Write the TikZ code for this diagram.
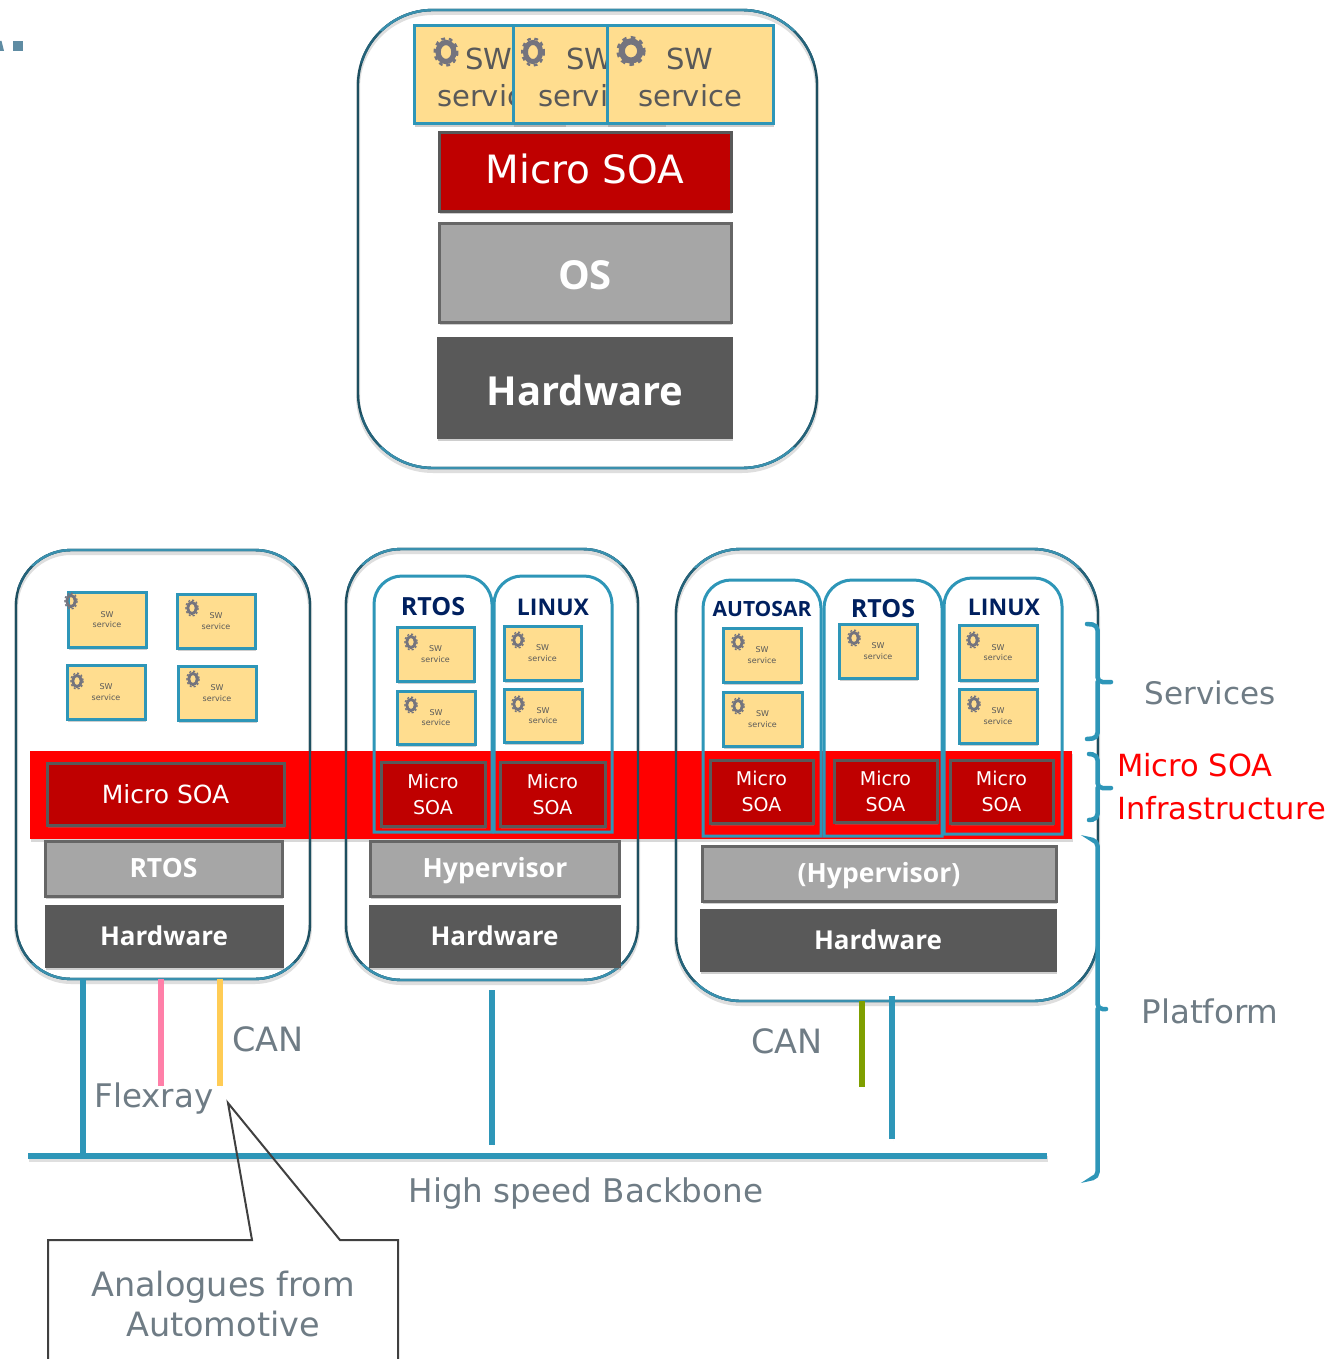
\documentclass[tikz,border=0pt]{standalone}
\usepackage{fontspec}
\setmainfont{DejaVu Sans}
\newfontfamily\titlefont{Open Sans}
\usetikzlibrary{shadows,calc}
\definecolor{teal1}{HTML}{2E96B8}
\definecolor{outerc}{HTML}{1D4F60}
\definecolor{outerm}{HTML}{25637A}
\definecolor{outert}{HTML}{3A90AE}
\definecolor{boxy}{HTML}{FFDD8F}
\definecolor{dred}{HTML}{BF0000}
\definecolor{midg}{HTML}{A6A6A6}
\definecolor{darkg}{HTML}{595959}
\definecolor{edgeg}{HTML}{666666}
\definecolor{labelg}{HTML}{6F7C85}
\definecolor{navyt}{HTML}{00205F}
\definecolor{gearc}{HTML}{74747E}
\definecolor{fragc}{HTML}{5F8CA3}
\definecolor{pinkb}{HTML}{FF7FA8}
\definecolor{yellb}{HTML}{FFCC55}
\definecolor{greenb}{HTML}{7F9F00}
\newcommand{\fsz}[2]{\fontsize{#1}{#2}\selectfont}
\tikzset{
  x=1pt,y=-1pt,
  shad/.style={drop shadow={opacity=.38,shadow xshift=1.2pt,shadow yshift=-3pt}},
  base/.style={inner sep=0pt,outer sep=0pt,align=center},
  swbox/.style={base,draw=teal1,fill=boxy,line width=3pt,shad,text=darkg,font=\fsz{8}{10.5}},
  swtop/.style={swbox,line width=3pt},
  soa/.style={base,draw=darkg,fill=dred,line width=3pt,shad,text=white},
  osb/.style={base,draw=edgeg,fill=midg,line width=3pt,shad,text=white,font=\titlefont\bfseries\fsz{26.5}{30}},
  hwb/.style={base,draw=darkg,fill=darkg,line width=1pt,shad,text=white,font=\titlefont\bfseries\fsz{26}{30}},
  hwt/.style={base,text=white,font=\titlefont\bfseries\fsz{26.5}{30}},
  outerbox/.style={base,draw=outerc,line width=2.4pt},
  innerline/.style={draw=teal1,line width=3pt},
  title/.style={base,text=navyt,font=\titlefont\bfseries\fsz{25}{28}},
  lab/.style={base,text=labelg},
  redlab/.style={base,text=red,anchor=west,font=\fsz{30.5}{34}},
  bar/.style={line width=5.5pt,drop shadow={opacity=.25,shadow xshift=1pt,shadow yshift=-2pt}},
  brace/.style={teal1,line width=4.5pt,line cap=round,rounded corners=5pt},
  geard/.style={gearc}
}
% name, style, x1,y1,x2,y2, text
\newcommand{\bx}[7]{%
  \pgfmathsetmacro{\bw}{#5-#3}\pgfmathsetmacro{\bh}{#6-#4}%
  \pgfmathsetmacro{\bcx}{(#3+#5)/2}\pgfmathsetmacro{\bcy}{(#4+#6)/2}%
  \node[#2,minimum width=\bw pt,minimum height=\bh pt] (#1) at (\bcx,\bcy) {#7};}
% x, y, rx, ry
\newcommand{\gearat}[4]{%
  \pgfmathsetmacro{\gax}{#3*.66}\pgfmathsetmacro{\gay}{#4*.66}%
  \pgfmathsetmacro{\gbx}{#3*.94}\pgfmathsetmacro{\gby}{#4*.94}%
  \pgfmathsetmacro{\gw}{#3*.44}\pgfmathsetmacro{\gt}{#3*.2}%
  \pgfmathsetmacro{\gd}{#3*.32}%
  \draw[geard,line width=\gw pt] (#1,#2) ellipse [x radius=\gax,y radius=\gay];
  \draw[geard,line width=\gt pt,dash pattern=on \gd pt off \gd pt] (#1,#2) ellipse [x radius=\gbx,y radius=\gby];}
\newcommand{\smallsw}[7]{\bx{#1}{swbox}{#2}{#3}{#4}{#5}{SW\\service}\gearat{#6}{#7}{6.5}{8.5}}
\newcommand{\soatwo}[5]{\bx{#1}{soa,font=\fsz{19}{26}}{#2}{#3}{#4}{#5}{Micro\\SOA}}
% soft shadow of an outer box, drawn under the red band
\newcommand{\softouter}[5]{\draw[black!13,line width=4pt,rounded corners=#5pt] (#1,#2+3) rectangle (#3,#4+3);}
% outer box: dark sides, lighter teal top and bottom
\newcommand{\outerb}[6]{%
  \bx{#1}{outerbox,rounded corners=#6pt}{#2}{#3}{#4}{#5}{}
  \begin{scope}
    \clip (#2-5,#3-5) rectangle (#4+5,#3+.7*#6);
    \draw[outerm,line width=2.4pt,rounded corners=#6pt] (#2,#3) rectangle (#4,#5);
  \end{scope}
  \begin{scope}
    \clip (#2-5,#5+5) rectangle (#4+5,#5-.7*#6);
    \draw[outerm,line width=2.4pt,rounded corners=#6pt] (#2,#3) rectangle (#4,#5);
  \end{scope}
  \begin{scope}
    \clip (#2-5,#3-5) rectangle (#4+5,#3+.28*#6);
    \draw[outert,line width=2.4pt,rounded corners=#6pt] (#2,#3) rectangle (#4,#5);
  \end{scope}
  \begin{scope}
    \clip (#2-5,#5+5) rectangle (#4+5,#5-.28*#6);
    \draw[outert,line width=2.4pt,rounded corners=#6pt] (#2,#3) rectangle (#4,#5);
  \end{scope}}
% inner column: round top, square bottom
\newcommand{\innerb}[4]{\draw[innerline] (#1,#4) -- (#1,#2+28) .. controls (#1,#2+12.6) and (#1+12.6,#2) .. (#1+28,#2) -- (#3-28,#2) .. controls (#3-12.6,#2) and (#3,#2+12.6) .. (#3,#2+28) -- (#3,#4) -- cycle;}
\begin{document}
\begin{tikzpicture}
\useasboundingbox (0,0) rectangle (1343,1359);
\fill[white] (0,0) rectangle (1343,1359);
% corner fragment
\fill[fragc] (0,41) -- (1.5,41) -- (4,51) -- (0,51) -- cycle;
\bx{fragS}{base,fill=fragc}{13}{41}{23}{51}{}
% soft shadows
\softouter{358}{10}{817}{468}{75}
\softouter{16}{550}{310}{979}{55}
\softouter{346}{549}{638}{980}{55}
\softouter{676}{549}{1098}{1001}{65}
% red band
\bx{band}{base,fill=red,drop shadow={opacity=.3,shadow xshift=1pt,shadow yshift=-3pt}}{30}{751}{1072}{839}{}
% TOP
\outerb{topO}{358}{10}{817}{468}{75}
\bx{t1}{swtop}{414}{26}{565}{124}{}
\node[base,text=darkg,font=\fsz{29}{37}] (t1t) at (489,77) {SW\\service};
\gearat{446}{52}{12}{14.5}
\bx{t2}{swtop}{513}{26}{665}{124}{}
\node[base,text=darkg,font=\fsz{29}{37}] (t2t) at (590,77) {SW\\service};
\gearat{533}{52}{11.5}{14.5}
\bx{t3}{swtop}{607}{26}{773}{124}{}
\node[base,text=darkg,font=\fsz{29}{37}] (t3t) at (690,77) {SW\\service};
\gearat{631}{51}{14}{14.5}
\bx{tsoa}{soa}{439}{133}{731}{211}{}
\node[base,text=white,font=\fsz{39}{42}] (tsoat) at (585,169) {Micro SOA};
\bx{tos}{osb}{439}{223}{731}{322}{}
\node[hwt,font=\titlefont\bfseries\fsz{40}{44}] (tost) at (585,275) {OS};
\bx{thw}{hwb}{437}{337}{732}{438}{}
\node[hwt,font=\titlefont\bfseries\fsz{40}{44}] (thwt) at (585,390) {Hardware};
% LEFT
\outerb{lO}{16}{550}{310}{979}{55}
\smallsw{l1}{68}{592}{146}{647}{71}{601}
\smallsw{l2}{177}{594}{255}{648}{192}{608}
\smallsw{l3}{67}{665}{145}{719}{77}{681}
\smallsw{l4}{178}{666}{256}{720}{193}{679}
\bx{lsoa}{soa,font=\fsz{25}{28}}{47}{763}{284}{825}{Micro SOA}
\bx{los}{osb}{45}{841}{282}{896}{RTOS}
\bx{lhw}{hwb}{45}{905}{283}{967}{Hardware}
% MIDDLE
\outerb{mO}{346}{549}{638}{980}{55}
\innerb{374}{576}{492}{832}
\innerb{494}{576}{612}{832}
\node[title] (mt1) at (433,607) {RTOS};
\node[title,font=\titlefont\bfseries\fsz{23}{26}] (mt2) at (553,607) {LINUX};
\smallsw{m1}{397}{627}{474}{681}{411}{642}
\smallsw{m2}{397}{691}{475}{744}{411}{705}
\smallsw{m3}{504}{626}{581}{680}{518}{640}
\smallsw{m4}{504}{689}{582}{742}{518}{704}
\soatwo{msoa1}{381}{762}{485}{826}
\soatwo{msoa2}{500}{762}{605}{826}
\bx{mos}{osb}{370}{841}{619}{896}{}
\node[hwt] (most) at (495,871) {Hypervisor};
\bx{mhw}{hwb}{369}{905}{620}{967}{Hardware}
% RIGHT
\outerb{rO}{676}{549}{1098}{1001}{65}
\innerb{703}{580}{821}{836}
\innerb{824}{580}{942}{836}
\innerb{944}{578}{1062}{834}
\node[title,font=\titlefont\bfseries\fsz{21}{24}] (rt1) at (762,609) {AUTOSAR};
\node[title] (rt2) at (883,609) {RTOS};
\node[title,font=\titlefont\bfseries\fsz{23}{26}] (rt3) at (1004,607) {LINUX};
\smallsw{r1}{723}{628}{801}{682}{738}{642}
\smallsw{r2}{723}{692}{802}{746}{738}{706}
\smallsw{r3}{839}{624}{917}{678}{854}{638}
\smallsw{r4}{959}{625}{1037}{680}{973}{640}
\smallsw{r5}{959}{689}{1037}{743}{974}{704}
\soatwo{rsoa1}{710}{760}{813}{823}
\soatwo{rsoa2}{834}{760}{937}{822}
\soatwo{rsoa3}{950}{760}{1053}{823}
\bx{ros}{osb}{702}{846}{1056}{901}{}
\node[hwt] (rost) at (879,876) {(Hypervisor)};
\bx{rhw}{hwb}{700}{909}{1056}{971}{Hardware}
% backbone and connectors
\bx{back}{base,fill=teal1,drop shadow={opacity=.25,shadow xshift=1pt,shadow yshift=-3pt}}{28}{1153}{1047}{1159}{}
\coordinate (c1) at (83,1000);
\coordinate (c2) at (161,1086);
\coordinate (c3) at (220,1086);
\coordinate (c4t) at (492,990);
\coordinate (c4b) at (492,1145);
\coordinate (c5) at (862,1087);
\coordinate (c6t) at (892,996);
\coordinate (c6b) at (892,1139);
\draw[bar,teal1] (c1 |- lO.south) -- (c1 |- back.center);
\draw[bar,pinkb] (c2 |- lO.south) -- (c2);
\draw[bar,yellb] (c3 |- lO.south) -- (c3);
\draw[bar,teal1] (c4t) -- (c4b);
\draw[bar,greenb] (c5 |- rO.south) -- (c5);
\draw[bar,teal1] (c6t) -- (c6b);
% braces
\draw[brace] (1087,624) -- (1097.5,625) -- (1097.5,682) -- (1111,682) (1097.5,682) -- (1097.5,738) -- (1087,739);
\draw[brace] (1089,754) -- (1097.5,755) -- (1097.5,788) -- (1111,788) (1097.5,788) -- (1097.5,819) -- (1089,820);
\draw[brace] (1093,840) -- (1097.5,841) -- (1097.5,1009) -- (1106,1009) (1097.5,1009) -- (1097.5,1177) -- (1093,1178);
% labels
\node[lab,font=\fsz{31}{34}] (lserv) at (1210,693) {Services};
\node[lab,font=\fsz{32.5}{34}] (lplat) at (1210,1011) {Platform};
\node[redlab] (lmicro) at (1117,765) {Micro SOA};
\node[redlab] (linfra) at (1117,808) {Infrastructure};
\node[lab,font=\fsz{33.5}{36}] (can1) at (268,1039) {CAN};
\node[lab,font=\fsz{33.5}{36}] (can2) at (787,1041) {CAN};
\node[lab,font=\fsz{32.5}{35}] (flex) at (154,1099) {Flexray};
\node[lab,font=\fsz{32.6}{35}] (hsb) at (586,1193) {High speed Backbone};
% callout
\draw[black!75,line width=2pt] (48,1362) -- (48,1240) -- (252,1240) -- (228,1103) -- (340,1240) -- (398,1240) -- (398,1362);
\node[lab,font=\fsz{33.5}{40}] (ana) at (223,1304) {Analogues from\\Automotive};
\end{tikzpicture}
\end{document}
